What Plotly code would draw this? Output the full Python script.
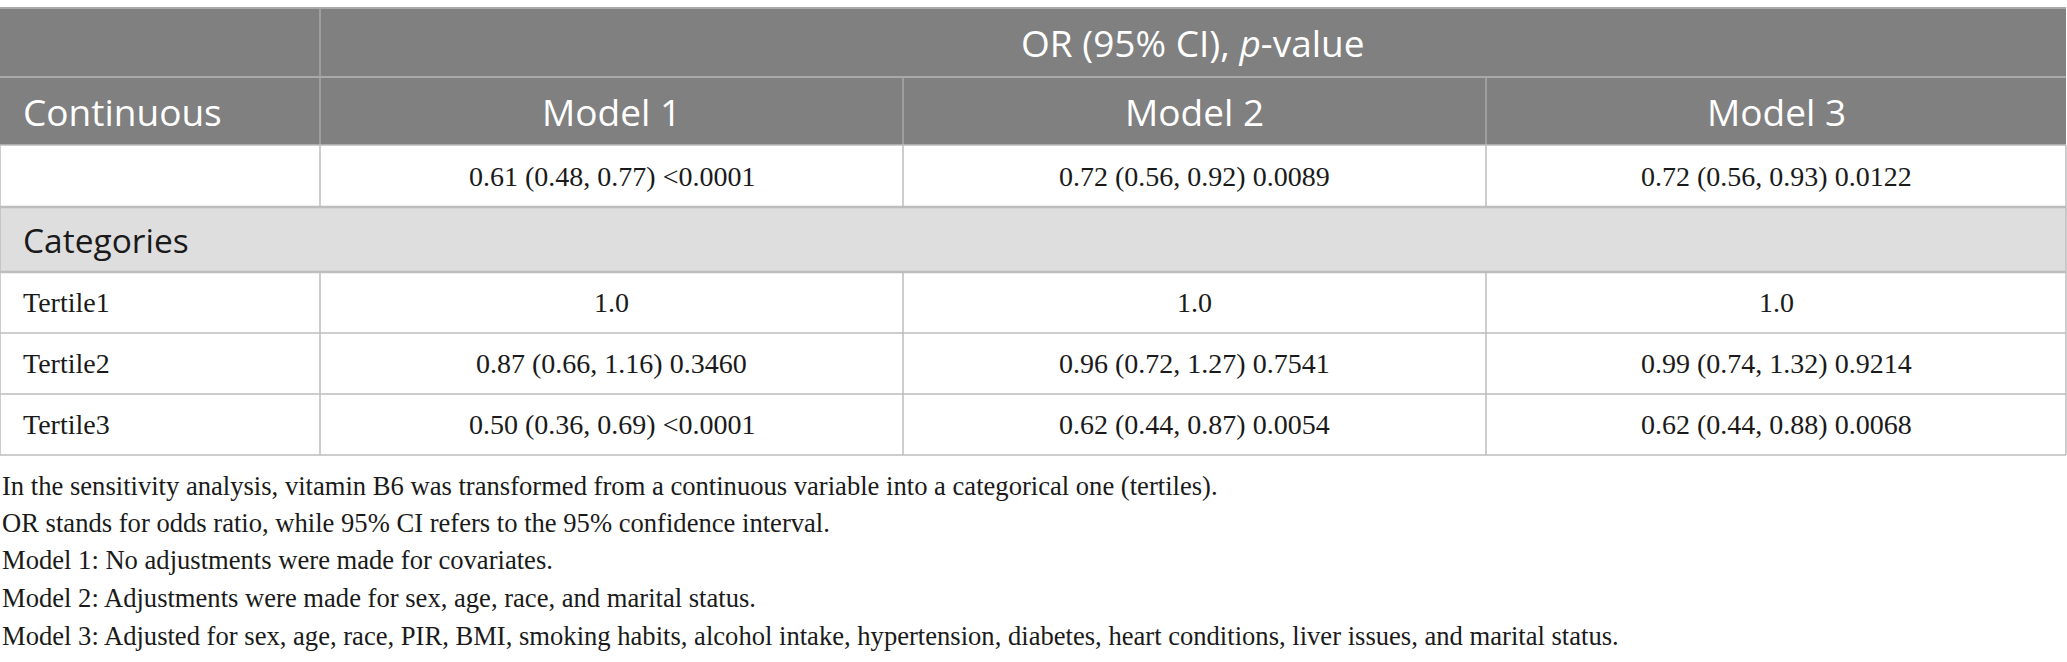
import plotly.graph_objects as go

W, H = 2067, 662

# table content
group_header = 'OR (95% CI), <i>p</i>-value'
section_labels = ['Continuous', 'Categories']
model_names = ['Model 1', 'Model 2', 'Model 3']
continuous_values = ['0.61 (0.48, 0.77) <0.0001',
                     '0.72 (0.56, 0.92) 0.0089',
                     '0.72 (0.56, 0.93) 0.0122']
tertile_labels = ['Tertile1', 'Tertile2', 'Tertile3']
tertile_model1 = ['1.0', '0.87 (0.66, 1.16) 0.3460', '0.50 (0.36, 0.69) <0.0001']
tertile_model2 = ['1.0', '0.96 (0.72, 1.27) 0.7541', '0.62 (0.44, 0.87) 0.0054']
tertile_model3 = ['1.0', '0.99 (0.74, 1.32) 0.9214', '0.62 (0.44, 0.88) 0.0068']
footnotes = [
    'In the sensitivity analysis, vitamin B6 was transformed from a continuous variable into a categorical one (tertiles).',
    'OR stands for odds ratio, while 95% CI refers to the 95% confidence interval.',
    'Model 1: No adjustments were made for covariates.',
    'Model 2: Adjustments were made for sex, age, race, and marital status.',
    'Model 3: Adjusted for sex, age, race, PIR, BMI, smoking habits, alcohol intake, hypertension, diabetes, heart conditions, liver issues, and marital status.',
]

# layout of the grid (pixels)
col_edges = [0, 320, 903, 1486, 2066]
row_edges = [8, 77, 145, 207, 272, 333, 394, 455]
foot_y = [486, 523, 560, 598, 636]

HEAD_BG = '#7f807f'
HEAD_LINE = '#a9a9a9'
CAT_BG = '#dfdedf'
LINE = '#bdbdbd'
HEAD_FONT = dict(family='Open Sans', size=37, color='white')
CAT_FONT = dict(family='Open Sans', size=33.5, color='#1a1a1a')
BODY_FONT = dict(family='Liberation Serif', size=28, color='#1a1a1a')
FOOT_FONT = dict(family='Liberation Serif', size=26.6, color='#1a1a1a')

fig = go.Figure()
shapes = []
ann = []


def line(x0, y0, x1, y1, color=LINE, width=1.5):
    shapes.append(dict(type='line', x0=x0, y0=y0, x1=x1, y1=y1,
                       xref='x', yref='y', line=dict(color=color, width=width)))


def text(x, y, s, font, anchor='center'):
    ann.append(dict(x=x, y=y, text=s, xref='x', yref='y', showarrow=False,
                    xanchor=anchor, yanchor='middle', font=font))


def mid(a, b):
    return (a + b) / 2


# backgrounds
shapes.append(dict(type='rect', x0=col_edges[0], x1=col_edges[-1], y0=row_edges[0], y1=row_edges[2],
                   xref='x', yref='y', fillcolor=HEAD_BG, line=dict(width=0), layer='below'))
shapes.append(dict(type='rect', x0=col_edges[0], x1=col_edges[-1], y0=row_edges[3], y1=row_edges[4],
                   xref='x', yref='y', fillcolor=CAT_BG, line=dict(width=0), layer='below'))

# header lines
line(col_edges[0], row_edges[0], col_edges[-1], row_edges[0], HEAD_LINE, 2)
line(col_edges[0], row_edges[1], col_edges[-1], row_edges[1], HEAD_LINE, 2)
line(col_edges[1], row_edges[0], col_edges[1], row_edges[2], HEAD_LINE, 1.5)
for xe in col_edges[2:4]:
    line(xe, row_edges[1], xe, row_edges[2], HEAD_LINE, 1.5)

# body lines
for i, ye in enumerate(row_edges[2:]):
    w = 2.5 if i in (1, 2) else 1.5
    line(col_edges[0], ye, col_edges[-1], ye, LINE, w)
for xe in col_edges:
    for r in (2, 4, 5, 6):
        line(xe, row_edges[r], xe, row_edges[r + 1], LINE, 1.5)
line(col_edges[0], row_edges[3], col_edges[0], row_edges[4], LINE, 1.5)
line(col_edges[-1], row_edges[3], col_edges[-1], row_edges[4], LINE, 1.5)

# header texts
text(mid(col_edges[1], col_edges[-1]), mid(row_edges[0], row_edges[1]), group_header, HEAD_FONT)
text(21, mid(row_edges[1], row_edges[2]), section_labels[0], HEAD_FONT, 'left')
for j, name in enumerate(model_names):
    text(mid(col_edges[j + 1], col_edges[j + 2]), mid(row_edges[1], row_edges[2]), name, HEAD_FONT)

# continuous row
for j, v in enumerate(continuous_values):
    text(mid(col_edges[j + 1], col_edges[j + 2]), mid(row_edges[2], row_edges[3]), v, BODY_FONT)

# categories row
text(21, mid(row_edges[3], row_edges[4]), section_labels[1], CAT_FONT, 'left')

# tertile rows
for i, lab in enumerate(tertile_labels):
    yc = mid(row_edges[4 + i], row_edges[5 + i])
    text(21, yc, lab, BODY_FONT, 'left')
    for j, col in enumerate([tertile_model1, tertile_model2, tertile_model3]):
        text(mid(col_edges[j + 1], col_edges[j + 2]), yc, col[i], BODY_FONT)

# footnotes
for yv, s in zip(foot_y, footnotes):
    text(0, yv, s, FOOT_FONT, 'left')

fig.update_layout(
    width=W, height=H,
    margin=dict(l=0, r=0, t=0, b=0),
    paper_bgcolor='white', plot_bgcolor='white',
    xaxis=dict(range=[0, W], visible=False, fixedrange=True),
    yaxis=dict(range=[H, 0], visible=False, fixedrange=True),
    shapes=shapes, annotations=ann,
    showlegend=False,
)

# drop the default page margin so the table sits at the window edge
fig.write_html("out.html", config={'displayModeBar': False},
               post_script="document.body.style.margin='0';")
